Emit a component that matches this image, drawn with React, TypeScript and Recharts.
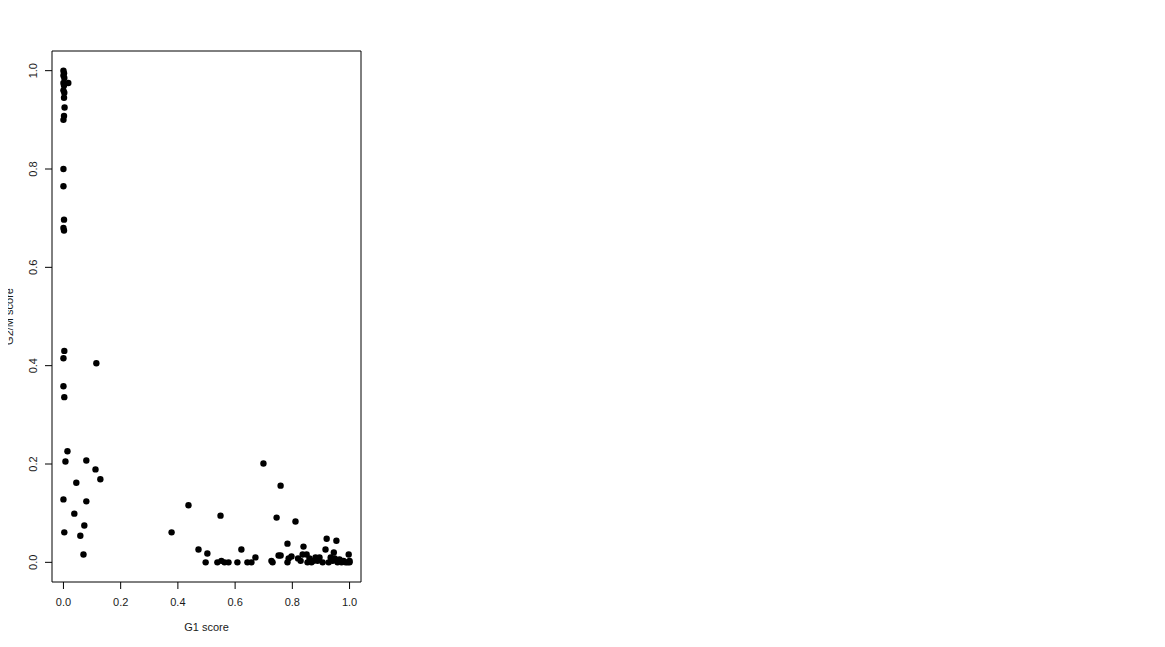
import { ScatterChart, Scatter, XAxis, YAxis, ReferenceArea } from 'recharts';

// G1 score for each cell
const g1Score = [
  0.0, 0.002, 0.0, 0.003, 0.0, 0.017, 0.002, 0.0, 0.003, 0.002, 0.004, 0.002, 0.0, 0.0, 0.0, 0.002, 0.0, 0.002,
  0.003, 0.0, 0.115, 0.0, 0.003,
  0.014, 0.007, 0.08, 0.112, 0.129, 0.045, 0.0, 0.08, 0.038, 0.073, 0.003, 0.059, 0.07,
  0.378, 0.437, 0.699, 0.549, 0.472, 0.503, 0.497, 0.538, 0.552, 0.563, 0.577, 0.608, 0.622, 0.643, 0.657, 0.671,
  0.759, 0.745, 0.811, 0.783, 0.839, 0.92, 0.954, 0.916, 0.945, 0.997, 0.727, 0.731, 0.752, 0.759, 0.783, 0.787,
  0.797, 0.82, 0.829, 0.836, 0.85, 0.853, 0.86, 0.867, 0.874, 0.881, 0.888, 0.895, 0.906, 0.927, 0.934, 0.941,
  0.948, 0.958, 0.965, 0.972, 0.979, 0.986, 0.993, 1.0, 1.0,
];

// G2/M score for each cell (same order)
const g2mScore = [
  1.0, 0.995, 0.99, 0.985, 0.975, 0.975, 0.97, 0.96, 0.955, 0.945, 0.925, 0.908, 0.9, 0.8, 0.765, 0.697, 0.68, 0.675,
  0.43, 0.415, 0.405, 0.358, 0.336,
  0.226, 0.205, 0.207, 0.189, 0.169, 0.162, 0.128, 0.124, 0.099, 0.075, 0.061, 0.054, 0.016,
  0.061, 0.116, 0.201, 0.095, 0.026, 0.018, 0.0, 0.0, 0.003, 0.0, 0.0, 0.0, 0.026, 0.0, 0.0, 0.01,
  0.156, 0.091, 0.083, 0.038, 0.032, 0.048, 0.044, 0.026, 0.02, 0.016, 0.003, 0.0, 0.014, 0.014, 0.0, 0.008,
  0.012, 0.008, 0.003, 0.016, 0.016, 0.0, 0.008, 0.0, 0.003, 0.01, 0.003, 0.01, 0.0, 0.0, 0.01, 0.003,
  0.008, 0.0, 0.006, 0.0, 0.003, 0.0, 0.0, 0.0, 0.003,
];

const xTicks = [0, 0.2, 0.4, 0.6, 0.8, 1.0];
const yTicks = [0, 0.2, 0.4, 0.6, 0.8, 1.0];

const data = g1Score.map((x, i) => ({ x, y: g2mScore[i] }));

const FONT = '"Liberation Sans", Arial, sans-serif';
const TEXT = '#1a1a1a';

// plot box in page coords (wrapper cancels the body margin)
const PLOT_LEFT = 52;
const PLOT_TOP = 51;
const PLOT_W = 309;
const PLOT_H = 531;

const XTick = (props: any) => {
  const { x, payload } = props;
  return (
    <text x={x} y={PLOT_TOP + PLOT_H + 24} textAnchor="middle" fontSize={11} fontFamily={FONT} fill={TEXT}>
      {payload.value.toFixed(1)}
    </text>
  );
};

const YTick = (props: any) => {
  const { y, payload } = props;
  const cx = 33;
  return (
    <text
      x={cx}
      y={y}
      transform={`rotate(-90 ${cx} ${y})`}
      textAnchor="middle"
      dominantBaseline="central"
      fontSize={11}
      fontFamily={FONT}
      fill={TEXT}
    >
      {payload.value.toFixed(1)}
    </text>
  );
};

const Dot = (props: any) => <circle cx={props.cx} cy={props.cy} r={3.2} fill="#000" />;

export default function App() {
  const midY = PLOT_TOP + PLOT_H / 2;
  return (
    <div style={{ width: 1165, height: 647, margin: -8, background: '#fff', position: 'relative' }}>
      <ScatterChart
        width={PLOT_LEFT + PLOT_W + 7}
        height={647}
        margin={{ top: PLOT_TOP, right: 7, left: 0, bottom: 647 - PLOT_TOP - PLOT_H - 60 }}
      >
        <XAxis
          type="number"
          dataKey="x"
          domain={[-0.04, 1.04]}
          ticks={xTicks}
          allowDataOverflow
          axisLine={false}
          tickSize={7}
          tickLine={{ stroke: '#000' }}
          tick={<XTick />}
          height={60}
        />
        <YAxis
          type="number"
          dataKey="y"
          domain={[-0.04, 1.04]}
          ticks={yTicks}
          allowDataOverflow
          axisLine={false}
          tickSize={7}
          tickLine={{ stroke: '#000' }}
          tick={<YTick />}
          width={PLOT_LEFT}
        />
        <ReferenceArea x1={-0.04} x2={1.04} y1={-0.04} y2={1.04} fill="none" stroke="#000" strokeWidth={1} fillOpacity={0} />
        <Scatter data={data} shape={<Dot />} isAnimationActive={false} />
        <text x={PLOT_LEFT + PLOT_W / 2} y={PLOT_TOP + PLOT_H + 49} textAnchor="middle" fontSize={11} fontFamily={FONT} fill={TEXT}>
          G1 score
        </text>
        <text
          x={9}
          y={midY}
          transform={`rotate(-90 9 ${midY})`}
          textAnchor="middle"
          dominantBaseline="central"
          fontSize={11}
          fontFamily={FONT}
          fill={TEXT}
        >
          G2/M score
        </text>
      </ScatterChart>
    </div>
  );
}
